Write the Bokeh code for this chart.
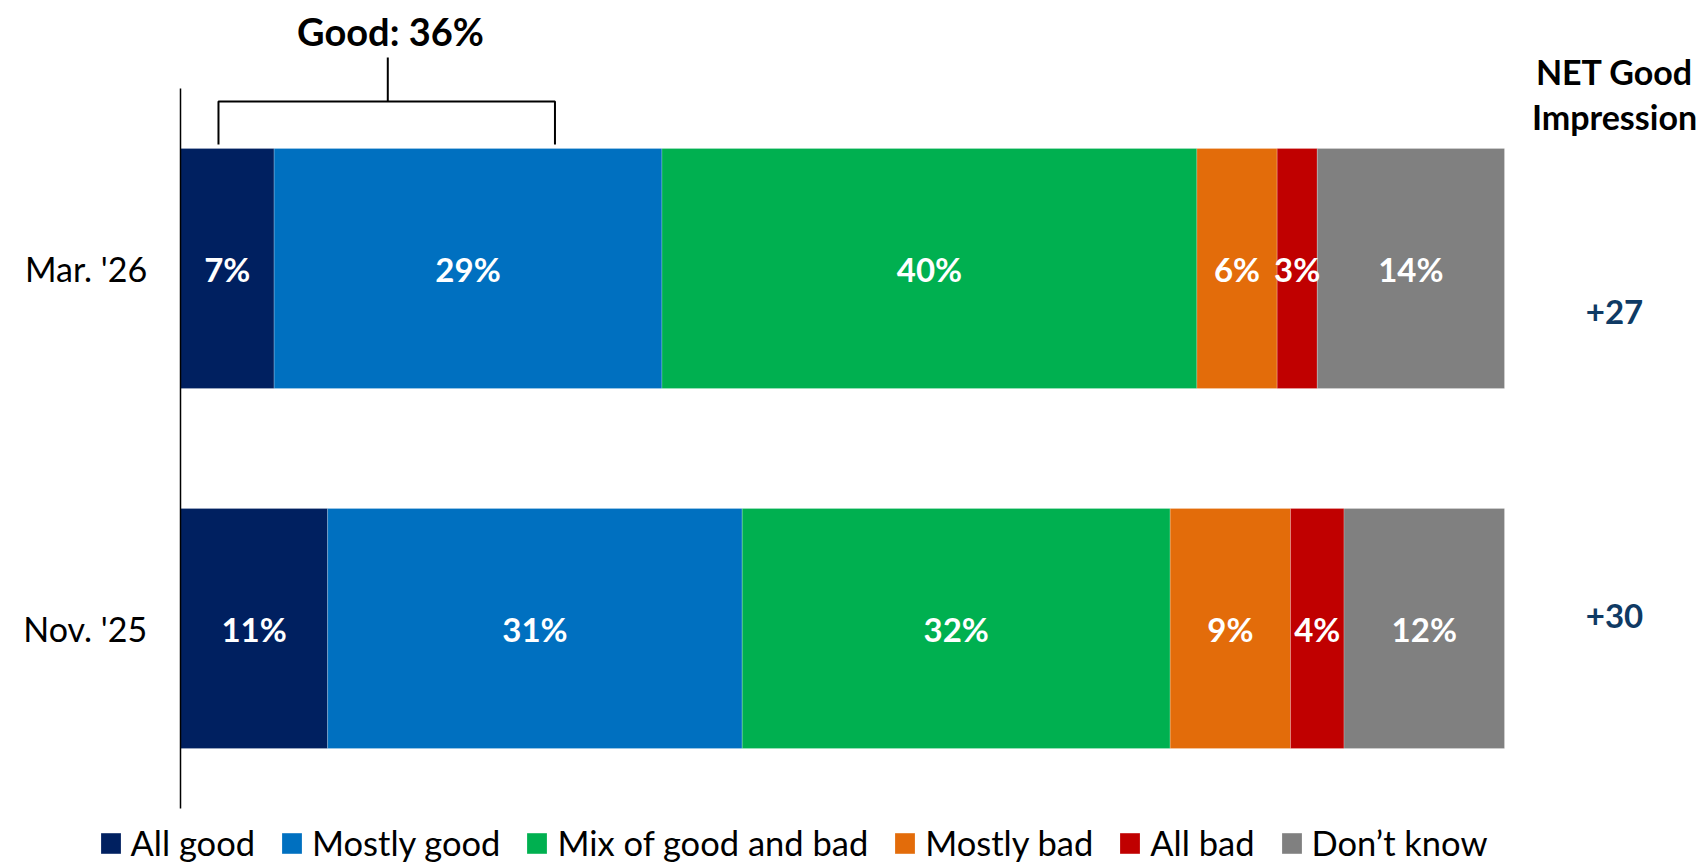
from bokeh.plotting import figure
from bokeh.models import ColumnDataSource, Range1d
from bokeh.core.properties import value
from bokeh.embed import file_html
from bokeh.resources import INLINE

# ---------------- data ----------------
periods = ["Mar. '26", "Nov. '25"]
period_pos = [1, 0]
series = ["All good", "Mostly good", "Mix of good and bad", "Mostly bad", "All bad", "Don\u2019t know"]
colors = ["#002060", "#0070C0", "#00B050", "#E36C0A", "#C00000", "#808080"]
all_good = [7, 11]
mostly_good = [29, 31]
mix = [40, 32]
mostly_bad = [6, 9]
all_bad = [3, 4]
dont_know = [14, 12]
net_good = [27, 30]

FONT = "Lato"
total = 99.0
px_per_unit = 1324.0 / total  # horizontal scale (pixels per percentage point)

# ---------------- figure ----------------
W, H = 1703, 865
FRAME_LEFT = 8
x_start = (FRAME_LEFT - 180.0) / px_per_unit
x_end = (W - 180.0) / px_per_unit
y_top = 1 + 268.0 / 360.0
y_bot = y_top - H / 360.0

p = figure(width=W, height=H, output_backend="svg", toolbar_location=None,
           x_range=Range1d(x_start, x_end), y_range=Range1d(y_bot, y_top),
           min_border_left=FRAME_LEFT, min_border_right=0, min_border_top=0, min_border_bottom=0)
p.xaxis.visible = False
p.yaxis.visible = False
p.xgrid.visible = False
p.ygrid.visible = False
p.outline_line_color = None
p.background_fill_color = "white"
p.border_fill_color = "white"

cols = [all_good, mostly_good, mix, mostly_bad, all_bad, dont_know]
data = {"y": period_pos}
for name, vals in zip(series, cols):
    data[name] = vals
src = ColumnDataSource(data)

p.hbar_stack(series, y="y", height=0.667, color=colors, source=src,
             line_color="white", line_width=0.6, line_alpha=0.35,
             legend_label=series)

# segment value labels
lx, ly, lt = [], [], []
for i, yp in enumerate(period_pos):
    left = 0.0
    for vals in cols:
        v = vals[i]
        lx.append(left + v / 2.0)
        ly.append(yp)
        lt.append(f"{v}%")
        left += v
p.text(x=lx, y=ly, text=lt, text_color="white", text_font=value(FONT),
       text_font_style="bold", text_font_size="33px", text_align="center",
       text_baseline="middle")

# category labels (left of the axis line)
cat_x = (146.6 - 180.0) / px_per_unit
p.text(x=[cat_x] * len(periods), y=period_pos, text=periods, text_color="black",
       text_font=value(FONT), text_font_size="34px", text_align="right",
       text_baseline="middle")

# vertical axis line
p.segment(x0=[0], y0=[-0.5], x1=[0], y1=[1.5], line_color="black", line_width=1.5)

# bracket for Good total
good_total = all_good[0] + mostly_good[0]
br_left, br_right, br_mid = 2.84, 28.0, 15.5
br_y = y_top - 101.0 / 360.0
br_tick = y_top - 144.0 / 360.0
br_stem = y_top - 57.0 / 360.0
p.multi_line(xs=[[br_left, br_left, br_right, br_right], [br_mid, br_mid]],
             ys=[[br_tick, br_y, br_y, br_tick], [br_y, br_stem]],
             line_color="black", line_width=2)
p.text(x=[15.7], y=[y_top - 30.0 / 360.0], text=[f"Good: {good_total}%"], text_color="black",
       text_font=value(FONT), text_font_style="bold", text_font_size="38px",
       text_align="center", text_baseline="middle")

# NET Good Impression header
net_x = (1614 - 180) / px_per_unit
p.text(x=[net_x, net_x], y=[y_top - 70.5 / 360.0, y_top - 116.0 / 360.0],
       text=["NET Good", "Impression"],
       text_color="black", text_font=value(FONT), text_font_style="bold",
       text_font_size="34px", text_align="center", text_baseline="middle")

# net values
net_y = [period_pos[0] - 0.1222, period_pos[1] + 0.036]
p.text(x=[net_x, net_x], y=net_y, text=[f"+{v}" for v in net_good],
       text_color="#0F3A64", text_font=value(FONT), text_font_style="bold",
       text_font_size="33px", text_align="center", text_baseline="middle")

# legend
lg = p.legend[0]
lg.orientation = "horizontal"
lg.location = (97.5 - FRAME_LEFT, 2)
lg.glyph_width = 25
lg.glyph_height = 26
lg.label_standoff = 8
lg.spacing = 24
lg.padding = 0
lg.margin = 0
lg.label_text_font = FONT
lg.label_text_font_size = "34.5px"
lg.label_text_color = "black"
lg.background_fill_alpha = 0
lg.border_line_color = None

open("out.html", "w").write(file_html(p, INLINE))
